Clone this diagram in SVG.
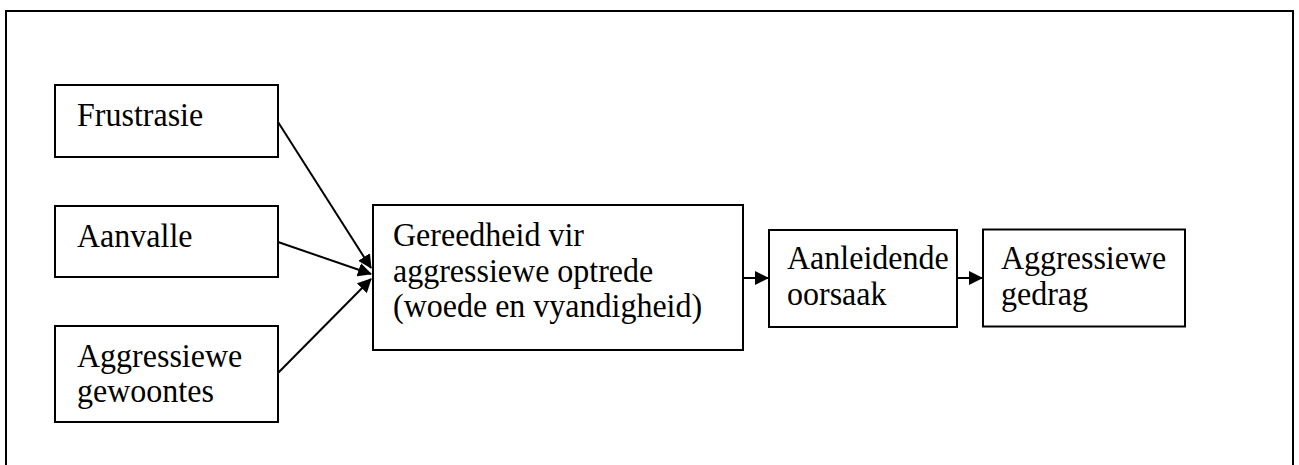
<svg xmlns="http://www.w3.org/2000/svg" width="1299" height="465" viewBox="0 0 1299 465">
<style>
.box{fill:#fff;stroke:#000;stroke-width:2}
.t{font-family:'Liberation Serif',Tinos,'Times New Roman',serif;font-size:32px;fill:#000}
.c{stroke:#000;stroke-width:2;fill:none}
</style>
<defs>
<marker id="ah" markerWidth="14" markerHeight="14" refX="13" refY="7" orient="auto" markerUnits="userSpaceOnUse">
<path d="M0,0 L14,7 L0,14 Z" fill="#000"/>
</marker>
</defs>
<rect width="1299" height="465" fill="#fff"/>
<path d="M6,466 L6,11 L1293,11 L1293,466" fill="none" stroke="#000" stroke-width="2"/>
<g id="connectors">
<line class="c" x1="278" y1="122" x2="371" y2="268" marker-end="url(#ah)"/>
<line class="c" x1="278" y1="242" x2="371" y2="274" marker-end="url(#ah)"/>
<line class="c" x1="278" y1="373" x2="371" y2="279" marker-end="url(#ah)"/>
<line class="c" x1="743" y1="278" x2="768" y2="278" marker-end="url(#ah)"/>
<line class="c" x1="957" y1="278" x2="982" y2="278" marker-end="url(#ah)"/>
</g>
<g id="frustrasie">
<rect class="box" x="55" y="85" width="223" height="72"/>
<text class="t" transform="translate(77,126) scale(1,1.08)">Frustrasie</text>
</g>
<g id="aanvalle">
<rect class="box" x="55" y="206" width="223" height="71"/>
<text class="t" transform="translate(77,247) scale(1,1.08)">Aanvalle</text>
</g>
<g id="gewoontes">
<rect class="box" x="55" y="326" width="223" height="96"/>
<text class="t" transform="translate(77,366.5) scale(1,1.08)">Aggressiewe</text>
<text class="t" transform="translate(77,401.5) scale(1,1.08)">gewoontes</text>
</g>
<g id="gereedheid">
<rect class="box" x="373" y="205" width="370" height="145"/>
<text class="t" transform="translate(393,245.5) scale(1,1.08)">Gereedheid vir</text>
<text class="t" transform="translate(393,281.5) scale(1,1.08)">aggressiewe optrede</text>
<text class="t" transform="translate(393,316.5) scale(1,1.08)">(woede en vyandigheid)</text>
</g>
<g id="aanleidende">
<rect class="box" x="769" y="230" width="188" height="97"/>
<text class="t" transform="translate(787,269) scale(1,1.08)">Aanleidende</text>
<text class="t" transform="translate(787,305) scale(1,1.08)">oorsaak</text>
</g>
<g id="gedrag">
<rect class="box" x="983" y="229.5" width="202" height="97"/>
<text class="t" transform="translate(1001,269) scale(1,1.08)">Aggressiewe</text>
<text class="t" transform="translate(1001,305) scale(1,1.08)">gedrag</text>
</g>
</svg>
